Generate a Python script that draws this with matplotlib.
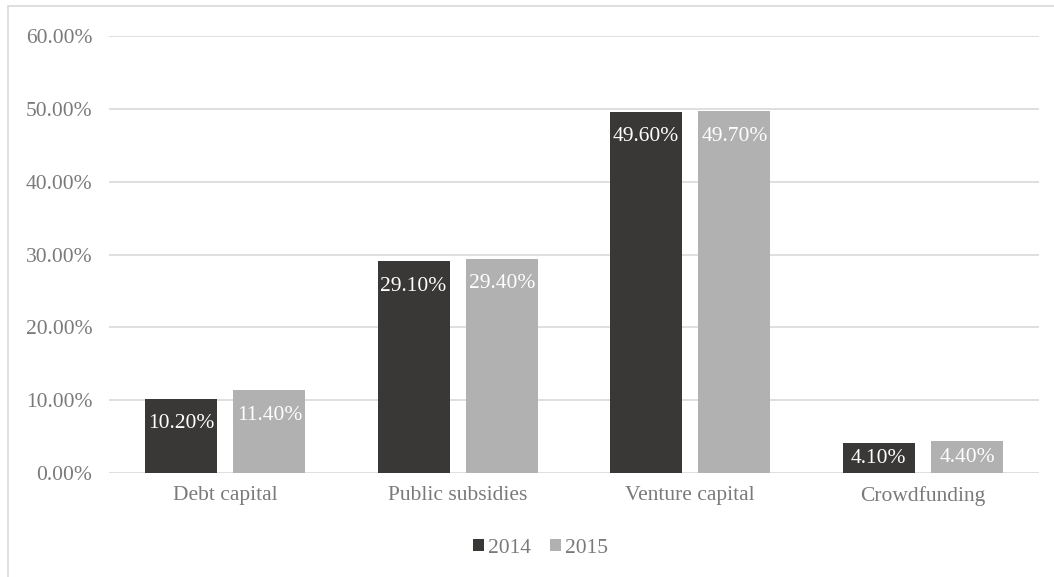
import matplotlib.pyplot as plt
from matplotlib.patches import Rectangle, Patch
import numpy as np

categories = ["Debt capital", "Public subsidies", "Venture capital", "Crowdfunding"]
years = ["2014", "2015"]
share_2014 = [0.102, 0.291, 0.496, 0.041]
share_2015 = [0.114, 0.294, 0.497, 0.044]
yticks = [0.0, 0.1, 0.2, 0.3, 0.4, 0.5, 0.6]

plt.rcParams["font.family"] = ["Liberation Serif", "DejaVu Serif"]

dark = "#3a3836"
light = "#b1b1b1"
text_gray = "#7a7a7a"
grid_gray = "#d9d9d9"
fs = 15.5

fig = plt.figure(figsize=(10.54, 5.77), dpi=100)
ax = fig.add_axes([0.1034, 0.180, 0.8824, 0.7576])

# outer chart border (left and top visible, rest runs off the image)
fig.patches.append(Rectangle((7.5 / 1054, -0.1), 1.2, 1.1 - 6 / 577,
                             transform=fig.transFigure, fill=False,
                             edgecolor=grid_gray, linewidth=1.2))

x = np.arange(len(categories))
width = 0.31
offset = 0.19
bars1 = ax.bar(x - offset, share_2014, width, color=dark, zorder=3)
bars2 = ax.bar(x + offset, share_2015, width, color=light, zorder=3)

# value labels just inside the bar tops
label_drop = 0.0343
for bars, vals in [(bars1, share_2014), (bars2, share_2015)]:
    for b, v in zip(bars, vals):
        yc = max(v - label_drop, v / 2)
        ax.text(b.get_x() + b.get_width() / 2, yc, f"{v * 100:.2f}%",
                ha="center", va="center", color="white", fontsize=fs, zorder=4)

ax.set_xlim(-0.5, len(categories) - 0.5)
ax.set_ylim(0, 0.6)
ax.set_yticks(yticks)
ax.set_yticklabels([f"{t * 100:.2f}%" for t in yticks])
ax.set_xticks(x)
ax.set_xticklabels(categories)
ax.tick_params(axis="both", length=0, labelsize=fs, labelcolor=text_gray)
ax.tick_params(axis="y", pad=12)
ax.tick_params(axis="x", pad=9)
ax.grid(axis="y", color=grid_gray, linewidth=1.2, zorder=0)
for s in ax.spines.values():
    s.set_visible(False)

handles = [Patch(facecolor=dark), Patch(facecolor=light)]
fig.legend(handles, years, loc="center", bbox_to_anchor=(0.513, 0.05),
           ncol=2, frameon=False, fontsize=fs, labelcolor=text_gray,
           handlelength=0.5, handleheight=0.5, handletextpad=0.2,
           columnspacing=0.9)

fig.savefig("out.png", dpi=100)
